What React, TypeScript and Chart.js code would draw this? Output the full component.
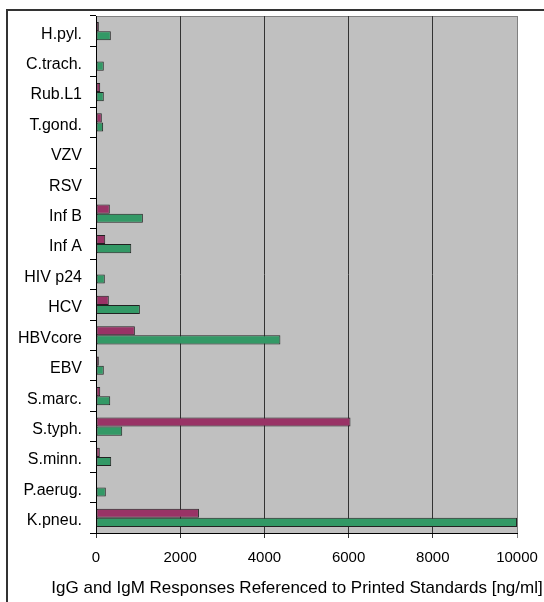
import React, { useEffect, useRef } from "react";
import { Chart, registerables } from "chart.js";

Chart.register(...registerables);

const categories = [
  "H.pyl.", "C.trach.", "Rub.L1", "T.gond.", "VZV", "RSV", "Inf B", "Inf A",
  "HIV p24", "HCV", "HBVcore", "EBV", "S.marc.", "S.typh.", "S.minn.", "P.aerug.", "K.pneu.",
];
const seriesIgM = [67, null, 100, 138, null, null, 328, 219, null, 304, 923, 67, 100, 6045, 90, null, 2445];
const seriesIgG = [352, 185, 185, 170, null, null, 1113, 837, 209, 1042, 4380, 185, 338, 623, 361, 233, 10000];
const xMin = 0;
const xMax = 10000;
const xStep = 2000;
const axisTitle = "IgG and IgM Responses Referenced to Printed Standards [ng/ml]";

const FONT = "'Liberation Sans', Arial, sans-serif";

const plotBg = {
  id: "plotBg",
  beforeDraw(chart: any) {
    const { ctx, chartArea } = chart;
    const { left, top, right, bottom } = chartArea;
    ctx.save();
    ctx.fillStyle = "#c0c0c0";
    ctx.fillRect(left, top, right - left, bottom - top);
    ctx.strokeStyle = "#808080";
    ctx.lineWidth = 1;
    ctx.beginPath();
    ctx.moveTo(left, Math.round(top) + 0.5);
    ctx.lineTo(Math.round(right) + 0.5, Math.round(top) + 0.5);
    ctx.lineTo(Math.round(right) + 0.5, bottom);
    ctx.stroke();
    ctx.restore();
  },
  afterDraw(chart: any) {
    const { ctx, chartArea } = chart;
    ctx.save();
    ctx.fillStyle = "#000000";
    ctx.font = "17px " + FONT;
    ctx.textAlign = "center";
    ctx.textBaseline = "middle";
    ctx.fillText(axisTitle, 297, chartArea.bottom + 55);
    ctx.restore();
  },
};

export default function App() {
  const ref = useRef<HTMLCanvasElement>(null);
  useEffect(() => {
    if (!ref.current) return;
    const chart = new Chart(ref.current, {
      type: "bar",
      data: {
        labels: categories,
        datasets: [
          {
            label: "IgM",
            data: seriesIgM as any,
            backgroundColor: "#993366",
            borderColor: "#222222",
            borderWidth: 1,
            borderSkipped: false,
            categoryPercentage: 0.6,
            barPercentage: 1,
          },
          {
            label: "IgG",
            data: seriesIgG as any,
            backgroundColor: "#339966",
            borderColor: "#222222",
            borderWidth: 1,
            borderSkipped: false,
            categoryPercentage: 0.6,
            barPercentage: 1,
          },
        ],
      },
      options: {
        indexAxis: "y",
        animation: false,
        responsive: false,
        maintainAspectRatio: false,
        layout: { padding: { top: 16, right: 27, bottom: 36, left: 0 } },
        plugins: { legend: { display: false }, tooltip: { enabled: false } },
        scales: {
          x: {
            min: xMin,
            max: xMax,
            grid: {
              color: (c: any) => (c.tick && c.tick.value === xMax ? "#808080" : "#333333"),
              lineWidth: 1,
              tickLength: 5,
            },
            border: { color: "#000000", width: 1 },
            ticks: {
              stepSize: xStep,
              padding: 11,
              color: "#000000",
              font: { family: FONT, size: 15 },
              maxRotation: 0,
              callback: (v: any) => String(v),
            },
            afterFit: (s: any) => {
              s.height = 33;
              s.paddingLeft = 0;
              s.paddingRight = 0;
            },
          },
          y: {
            grid: {
              drawOnChartArea: false,
              color: "#000000",
              tickLength: 6,
              offset: true,
            },
            border: { color: "#000000", width: 1 },
            ticks: {
              padding: 8,
              labelOffset: 3,
              autoSkip: false,
              color: "#000000",
              font: { family: FONT, size: 16 },
            },
            afterFit: (s: any) => {
              s.width = 96;
              s.paddingTop = 0;
              s.paddingBottom = 0;
            },
          },
        },
      },
      plugins: [plotBg],
    });
    return () => chart.destroy();
  }, []);

  return (
    <div
      style={{
        position: "absolute",
        left: 0,
        top: 0,
        width: 544,
        height: 602,
        overflow: "hidden",
        background: "#ffffff",
      }}
    >
      <div
        style={{
          position: "absolute",
          left: 6,
          top: 9,
          width: 700,
          height: 800,
          border: "2px solid #333333",
          boxSizing: "border-box",
        }}
      />
      <canvas
        ref={ref}
        width={544}
        height={602}
        style={{ position: "absolute", left: 0, top: 0, width: 544, height: 602 }}
      />
    </div>
  );
}
